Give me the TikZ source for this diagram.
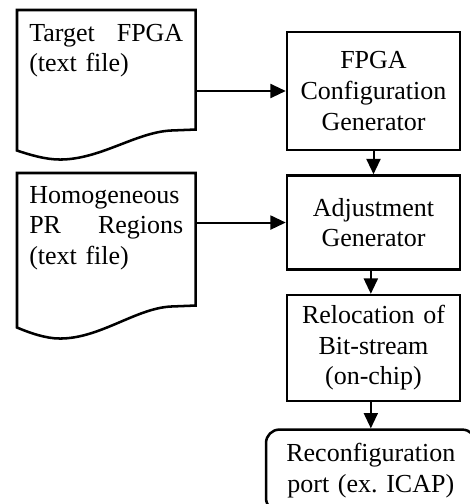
\documentclass[tikz,border=0pt]{standalone}
\usepackage{fontspec}
\setmainfont{Liberation Serif}
\usetikzlibrary{positioning,calc,arrows.meta}

\begin{document}
\begin{tikzpicture}[x=0.75pt, y=-0.75pt,
        font=\fontsize{19.5pt}{22.9pt}\selectfont\frenchspacing,
        block/.style={rectangle, draw, line width=1.9pt, text width=112.5pt, inner xsep=8.6pt, align=center},
        portbox/.style={block, rounded corners=10pt, text width=140pt},
        doc/.style={rectangle, text width=115.5pt, inner xsep=9pt, inner ysep=0pt, align=left, anchor=north west},
        docline/.style={line width=1.9pt},
        line/.style={draw, line width=1.5pt, -{Triangle[length=11.5pt, width=10.5pt]}}]

        \useasboundingbox (0,0) rectangle (469,504);

        % input files
        \node [doc, text height=23.25pt, text depth=81.75pt] (tfile) at (17,10) {Target \hfill FPGA\\ (text file)};
        \node [doc, text height=22.5pt, text depth=93pt] (hfile) at (17,173) {Homogeneous\\ PR \hfill Regions\\ (text file)};

        \draw [docline] (tfile.south west) -- (tfile.north west) -- (tfile.north east) -- ($(tfile.south east)+(0,-21)$) -- ++(-25,1)
            .. controls +(-35,2) and +(40,0) .. ($(tfile.south west)+(43,9)$)
            .. controls +(-15,0) and +(12,4) .. (tfile.south west) -- cycle;
        \draw [docline] (hfile.south west) -- (hfile.north west) -- (hfile.north east) -- ($(hfile.south east)+(0,-22)$) -- ++(-25,1)
            .. controls +(-35,2) and +(40,0) .. ($(hfile.south west)+(43,11)$)
            .. controls +(-15,0) and +(12,5) .. (hfile.south west) -- cycle;

        % processing chain
        \node [block, minimum height=88.5pt] (cfg) at (373.5,91) {FPGA\\ Configuration\\ Generator};
        \node [block, below=17.25pt of cfg, minimum height=70.5pt] (adj) {Adjustment\\ Generator};
        \node [block, below=17.25pt of adj, minimum height=79.5pt] (rel) {Relocation of\\ Bit-stream\\ (on-chip)};
        \node [portbox, below=19.5pt of rel, xshift=-2pt, minimum height=61.5pt] (port) {Reconfiguration\\ port (ex. ICAP)};

        \path [line] (cfg.west -| tfile.east) -- (cfg.west);
        \path [line] (adj.west -| hfile.east) -- (adj.west);
        \path [line] (cfg) -- (adj);
        \path [line] (adj.south -| port.north) -- (rel.north -| port.north);
        \path [line] (rel.south -| port.north) -- (port.north);

    \end{tikzpicture}
\end{document}
